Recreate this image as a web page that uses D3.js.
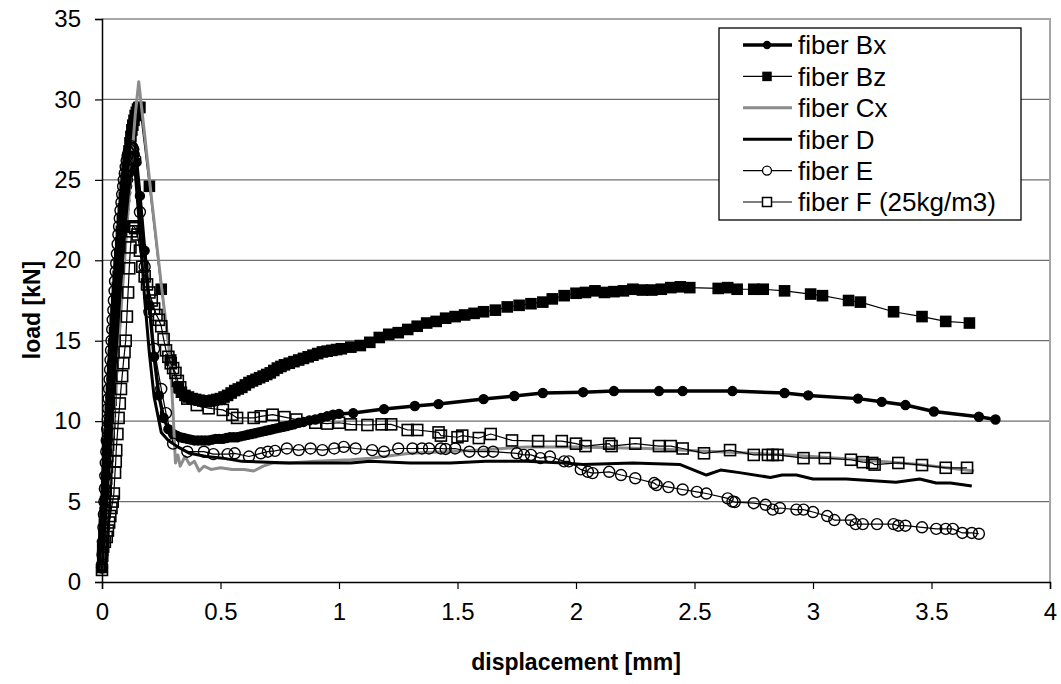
<!DOCTYPE html>
<html>
<head>
<meta charset="utf-8">
<script src="https://cdn.jsdelivr.net/npm/d3@7"></script>
<style>
  body { margin: 0; background: #fff; }
  svg { font-family: "Liberation Sans", Arial, sans-serif; }
</style>
</head>
<body>
<svg id="chart" width="1061" height="684"></svg>
<script>
// data: [displacement mm, load kN]
var fiberBx = [[0,0.9],[0.002,1.3],[0.004,1.8],[0.006,2.4],[0.008,3.0],[0.01,3.6],[0.012,4.2],[0.014,4.9],[0.016,5.6],[0.018,6.3],[0.02,7.0],[0.022,7.6],[0.024,8.2],[0.026,8.8],[0.028,9.3],[0.03,9.9],[0.032,10.4],[0.034,11.0],[0.036,11.5],[0.038,12.0],[0.04,12.6],[0.043,13.3],[0.045,13.8],[0.048,14.4],[0.05,15.0],[0.053,15.7],[0.055,16.2],[0.058,16.8],[0.06,17.4],[0.063,18.0],[0.065,18.5],[0.068,19.1],[0.07,19.6],[0.073,20.2],[0.076,20.7],[0.079,21.2],[0.082,21.7],[0.086,22.2],[0.09,22.7],[0.094,23.2],[0.098,23.7],[0.102,24.2],[0.106,24.6],[0.11,25.0],[0.114,25.4],[0.118,25.7],[0.122,26.0],[0.126,26.2],[0.13,26.4],[0.134,26.5],[0.138,26.6],[0.146,26.1],[0.16,24.0],[0.18,20.6],[0.2,17.2],[0.22,14.0],[0.24,11.6],[0.26,10.2],[0.28,9.5],[0.3,9.2],[0.315,9.1],[0.33,9.0],[0.345,8.95],[0.36,8.9],[0.375,8.85],[0.39,8.8],[0.405,8.8],[0.42,8.8],[0.435,8.8],[0.45,8.8],[0.465,8.85],[0.48,8.9],[0.495,8.9],[0.51,8.9],[0.525,8.95],[0.54,9.0],[0.555,9.0],[0.57,9.0],[0.585,9.05],[0.6,9.1],[0.615,9.15],[0.63,9.2],[0.645,9.25],[0.66,9.3],[0.675,9.35],[0.69,9.4],[0.705,9.45],[0.72,9.5],[0.735,9.55],[0.75,9.6],[0.765,9.65],[0.78,9.7],[0.795,9.75],[0.81,9.8],[0.83,9.9],[0.85,9.95],[0.875,10.05],[0.9,10.1],[0.925,10.2],[0.95,10.3],[0.975,10.4],[1.0,10.45],[1.06,10.5],[1.19,10.75],[1.32,10.94],[1.42,11.06],[1.61,11.37],[1.74,11.56],[1.86,11.75],[2.03,11.8],[2.16,11.87],[2.35,11.87],[2.45,11.87],[2.66,11.87],[2.88,11.75],[2.98,11.6],[3.19,11.4],[3.29,11.2],[3.39,11.0],[3.51,10.6],[3.7,10.27],[3.77,10.1]];

var fiberBz = [[0,0.9],[0.003,1.6],[0.005,2.2],[0.008,2.9],[0.01,3.6],[0.013,4.3],[0.015,5.0],[0.018,5.7],[0.02,6.4],[0.023,7.1],[0.025,7.8],[0.028,8.5],[0.03,9.2],[0.033,9.9],[0.035,10.6],[0.038,11.3],[0.04,12.0],[0.043,12.7],[0.045,13.4],[0.048,14.1],[0.05,14.8],[0.053,15.5],[0.056,16.2],[0.059,16.9],[0.062,17.6],[0.065,18.3],[0.068,19.0],[0.072,19.7],[0.075,20.4],[0.079,21.1],[0.082,21.8],[0.086,22.5],[0.09,23.2],[0.094,23.9],[0.098,24.5],[0.102,25.1],[0.106,25.7],[0.11,26.3],[0.114,26.8],[0.118,27.3],[0.122,27.7],[0.126,28.1],[0.13,28.4],[0.135,28.7],[0.14,29.0],[0.145,29.2],[0.15,29.4],[0.155,29.5],[0.16,29.5],[0.2,24.6],[0.25,18.2],[0.29,13.8],[0.32,12.1],[0.335,11.8],[0.35,11.6],[0.365,11.5],[0.38,11.4],[0.395,11.35],[0.41,11.3],[0.425,11.25],[0.44,11.2],[0.455,11.25],[0.47,11.3],[0.485,11.35],[0.5,11.4],[0.515,11.5],[0.53,11.6],[0.545,11.75],[0.56,11.9],[0.575,12.0],[0.59,12.1],[0.605,12.25],[0.62,12.4],[0.635,12.5],[0.65,12.6],[0.665,12.7],[0.68,12.8],[0.695,12.9],[0.71,13.0],[0.725,13.15],[0.74,13.3],[0.755,13.4],[0.77,13.5],[0.79,13.6],[0.81,13.7],[0.83,13.8],[0.85,13.9],[0.87,14.0],[0.89,14.1],[0.91,14.2],[0.93,14.3],[0.95,14.35],[0.97,14.4],[0.99,14.45],[1.01,14.5],[1.05,14.6],[1.09,14.7],[1.13,14.9],[1.17,15.2],[1.21,15.4],[1.25,15.5],[1.29,15.7],[1.33,15.9],[1.37,16.1],[1.41,16.2],[1.45,16.4],[1.49,16.5],[1.53,16.6],[1.57,16.7],[1.61,16.8],[1.66,16.9],[1.71,17.1],[1.76,17.2],[1.81,17.3],[1.86,17.4],[1.9,17.6],[1.95,17.8],[2.0,17.95],[2.04,18.0],[2.08,18.1],[2.12,18.0],[2.16,18.05],[2.2,18.1],[2.24,18.2],[2.28,18.15],[2.32,18.15],[2.36,18.2],[2.4,18.3],[2.44,18.35],[2.48,18.3],[2.6,18.25],[2.64,18.3],[2.68,18.2],[2.75,18.2],[2.79,18.2],[2.88,18.1],[2.99,17.9],[3.04,17.8],[3.15,17.5],[3.2,17.4],[3.34,16.8],[3.46,16.5],[3.56,16.2],[3.66,16.1]];

var fiberCx = [[0,0.8],[0.02,4.5],[0.04,8.5],[0.06,12.5],[0.08,16.8],[0.1,21.0],[0.12,25.2],[0.14,29.0],[0.155,31.1],[0.18,27.8],[0.21,23.7],[0.25,18.5],[0.287,14.0],[0.3,10.5],[0.31,7.4],[0.32,7.9],[0.33,7.2],[0.35,7.8],[0.37,7.3],[0.39,7.5],[0.41,6.9],[0.43,7.2],[0.46,7.0],[0.5,7.1],[0.55,7.0],[0.6,7.0],[0.64,6.9],[0.68,7.2],[0.72,7.4],[0.79,7.4],[0.9,7.5],[1.05,7.6],[1.13,7.7],[1.3,8.0],[1.45,8.1],[1.6,8.2],[1.79,8.4],[2.0,8.4],[2.3,8.3],[2.6,8.1],[2.9,7.9],[3.2,7.6],[3.45,7.3],[3.68,6.9]];

var fiberD = [[0,0.8],[0.01,3.0],[0.02,5.3],[0.03,7.6],[0.04,9.9],[0.05,12.2],[0.06,14.4],[0.07,16.6],[0.08,18.7],[0.09,20.7],[0.1,22.5],[0.11,24.0],[0.12,25.2],[0.13,26.0],[0.14,25.5],[0.16,21.8],[0.18,17.6],[0.2,14.2],[0.22,11.5],[0.25,9.3],[0.28,8.8],[0.32,8.4],[0.37,8.0],[0.44,7.8],[0.51,7.7],[0.59,7.5],[0.79,7.4],[1.05,7.4],[1.13,7.5],[1.3,7.4],[1.47,7.4],[1.62,7.5],[1.79,7.5],[1.95,7.4],[2.03,7.3],[2.24,7.4],[2.44,7.3],[2.55,6.65],[2.61,6.96],[2.69,6.8],[2.82,6.5],[2.87,6.65],[2.93,6.65],[3.0,6.4],[3.14,6.4],[3.35,6.2],[3.45,6.4],[3.52,6.15],[3.58,6.15],[3.67,5.97]];

var fiberE = [[0,0.9],[0.002,1.7],[0.004,2.5],[0.006,3.4],[0.008,4.2],[0.01,5.0],[0.012,5.8],[0.014,6.6],[0.016,7.4],[0.018,8.1],[0.02,8.8],[0.022,9.5],[0.024,10.1],[0.026,10.8],[0.028,11.4],[0.03,12.0],[0.032,12.6],[0.034,13.2],[0.036,13.8],[0.038,14.4],[0.04,15.0],[0.043,15.7],[0.045,16.3],[0.048,16.9],[0.05,17.5],[0.053,18.1],[0.055,18.7],[0.058,19.3],[0.06,19.8],[0.063,20.4],[0.066,21.0],[0.069,21.6],[0.072,22.1],[0.075,22.6],[0.078,23.1],[0.082,23.6],[0.085,24.1],[0.089,24.6],[0.092,25.0],[0.096,25.4],[0.1,25.8],[0.104,26.2],[0.108,26.5],[0.112,26.7],[0.116,26.9],[0.12,27.0],[0.124,27.1],[0.128,27.0],[0.132,26.9],[0.14,26.3],[0.16,23.0],[0.18,19.6],[0.2,16.8],[0.22,14.5],[0.25,12.0],[0.27,10.5],[0.3,8.6],[0.36,8.1],[0.43,8.1],[0.47,7.95],[0.53,7.95],[0.56,8.0],[0.62,7.8],[0.67,8.0],[0.7,8.1],[0.73,8.15],[0.78,8.3],[0.83,8.2],[0.88,8.3],[0.93,8.2],[0.98,8.3],[1.02,8.4],[1.07,8.3],[1.14,8.2],[1.19,8.1],[1.25,8.3],[1.31,8.3],[1.35,8.3],[1.38,8.3],[1.43,8.3],[1.45,8.27],[1.49,8.3],[1.55,8.1],[1.61,8.1],[1.65,8.1],[1.75,8.0],[1.78,7.9],[1.81,7.9],[1.85,7.7],[1.89,7.8],[1.95,7.5],[1.97,7.5],[2.02,7.0],[2.05,6.85],[2.07,6.77],[2.14,6.85],[2.19,6.65],[2.25,6.45],[2.33,6.15],[2.34,6.03],[2.39,5.9],[2.45,5.75],[2.51,5.6],[2.55,5.5],[2.64,5.2],[2.66,5.0],[2.67,4.97],[2.75,4.9],[2.8,4.8],[2.83,4.5],[2.86,4.6],[2.93,4.5],[2.96,4.5],[3.0,4.35],[3.06,4.1],[3.09,3.85],[3.16,3.85],[3.18,3.6],[3.21,3.6],[3.27,3.6],[3.34,3.6],[3.36,3.5],[3.39,3.5],[3.46,3.4],[3.52,3.3],[3.56,3.3],[3.59,3.3],[3.63,3.05],[3.67,3.05],[3.7,3.0]];

var fiberF = [[0,0.75],[0.005,2.2],[0.012,2.5],[0.02,2.8],[0.025,3.2],[0.03,3.7],[0.035,4.1],[0.04,4.6],[0.045,5.0],[0.05,5.5],[0.055,6.8],[0.058,7.5],[0.06,8.2],[0.065,9.2],[0.07,10.2],[0.075,11.1],[0.08,12.0],[0.085,12.8],[0.09,13.6],[0.095,14.3],[0.1,15.0],[0.105,16.5],[0.11,18.0],[0.115,19.5],[0.12,20.8],[0.125,21.8],[0.13,22.1],[0.135,22.1],[0.14,22.0],[0.15,21.6],[0.16,20.6],[0.17,19.6],[0.18,19.0],[0.19,18.5],[0.2,18.0],[0.21,17.5],[0.22,17.0],[0.23,16.6],[0.24,16.3],[0.25,15.9],[0.26,15.1],[0.27,14.4],[0.28,14.0],[0.29,13.6],[0.3,13.3],[0.31,13.0],[0.32,12.5],[0.33,12.1],[0.36,11.4],[0.4,11.0],[0.45,10.8],[0.51,10.7],[0.55,10.4],[0.57,10.2],[0.64,10.2],[0.67,10.3],[0.72,10.4],[0.77,10.25],[0.82,10.1],[0.9,9.9],[0.95,9.85],[1.0,9.9],[1.05,9.8],[1.12,9.76],[1.18,9.8],[1.22,9.8],[1.29,9.45],[1.33,9.45],[1.42,9.3],[1.43,9.1],[1.5,9.0],[1.52,9.1],[1.59,8.95],[1.64,9.2],[1.73,8.8],[1.84,8.76],[1.94,8.76],[2.0,8.6],[2.04,8.45],[2.14,8.6],[2.15,8.45],[2.25,8.6],[2.35,8.45],[2.4,8.45],[2.45,8.3],[2.54,8.0],[2.65,8.2],[2.75,7.9],[2.81,7.9],[2.83,7.9],[2.85,7.9],[2.96,7.7],[3.05,7.7],[3.16,7.6],[3.21,7.45],[3.25,7.4],[3.26,7.3],[3.36,7.4],[3.46,7.27],[3.56,7.1],[3.65,7.1]];

var xTicks = [0, 0.5, 1, 1.5, 2, 2.5, 3, 3.5, 4];
var yTicks = [0, 5, 10, 15, 20, 25, 30, 35];
var seriesNames = ["fiber Bx", "fiber Bz", "fiber Cx", "fiber D", "fiber E", "fiber F (25kg/m3)"];

// series styles
var styles = [
  {data: fiberBx, stroke: "#000", width: 3.5, marker: "circle", fill: "#000", size: 4.5},
  {data: fiberBz, stroke: "#000", width: 1.2, marker: "square", fill: "#000", size: 10},
  {data: fiberCx, stroke: "#8c8c8c", width: 3, marker: null},
  {data: fiberD, stroke: "#000", width: 3, marker: null},
  {data: fiberE, stroke: "#000", width: 1.2, marker: "circle", fill: "none", size: 5.5},
  {data: fiberF, stroke: "#000", width: 1.2, marker: "square", fill: "none", size: 11}
];

var plot = {left: 102, right: 1050, top: 19, bottom: 582};
var svg = d3.select("#chart");

var x = d3.scaleLinear().domain([0, 4]).range([plot.left, plot.right]);
var y = d3.scaleLinear().domain([0, 35]).range([plot.bottom, plot.top]);

// gridlines
svg.append("g")
  .selectAll("line")
  .data(yTicks.filter(function(t) { return t > 0 && t < 35; }))
  .enter().append("line")
    .attr("x1", plot.left).attr("x2", plot.right)
    .attr("y1", function(d) { return y(d); })
    .attr("y2", function(d) { return y(d); })
    .attr("stroke", "#6e6e6e")
    .attr("stroke-width", 1.2);

// plot area border (top + right)
svg.append("path")
  .attr("d", "M" + plot.left + "," + plot.top + "H" + plot.right + "V" + plot.bottom)
  .attr("fill", "none")
  .attr("stroke", "#a6a6a6")
  .attr("stroke-width", 2);

// axes
var xAxis = svg.append("g")
  .attr("transform", "translate(0," + plot.bottom + ")")
  .call(d3.axisBottom(x).tickValues(xTicks).tickSize(7).tickPadding(14)
    .tickFormat(function(d) { return String(d); }));
var yAxis = svg.append("g")
  .attr("transform", "translate(" + plot.left + ",0)")
  .call(d3.axisLeft(y).tickValues(yTicks).tickSize(7).tickPadding(14));

[xAxis, yAxis].forEach(function(a) {
  a.select(".domain").attr("stroke", "#000").attr("stroke-width", 1.5);
  a.selectAll(".tick line").attr("stroke", "#000").attr("stroke-width", 1.2);
  a.selectAll(".tick text")
    .attr("fill", "#000")
    .style("font-family", "'Liberation Sans', Arial, sans-serif")
    .style("font-size", "24px");
});

// series
var line = d3.line()
  .x(function(d) { return x(d[0]); })
  .y(function(d) { return y(d[1]); });

function drawMarkers(g, s, pts) {
  if (s.marker == "circle") {
    g.selectAll("circle").data(pts).enter().append("circle")
      .attr("cx", function(d) { return x(d[0]); })
      .attr("cy", function(d) { return y(d[1]); })
      .attr("r", s.size)
      .attr("fill", s.fill)
      .attr("stroke", "#000")
      .attr("stroke-width", 1.4);
  } else if (s.marker == "square") {
    g.selectAll("rect").data(pts).enter().append("rect")
      .attr("x", function(d) { return x(d[0]) - s.size / 2; })
      .attr("y", function(d) { return y(d[1]) - s.size / 2; })
      .attr("width", s.size)
      .attr("height", s.size)
      .attr("fill", s.fill)
      .attr("stroke", "#000")
      .attr("stroke-width", 1.6);
  }
}

styles.forEach(function(s) {
  var g = svg.append("g");
  g.append("path")
    .datum(s.data)
    .attr("fill", "none")
    .attr("stroke", s.stroke)
    .attr("stroke-width", s.width)
    .attr("stroke-linejoin", "round")
    .attr("d", line);
  drawMarkers(g, s, s.data);
});

// axis titles
svg.append("text")
  .attr("x", (plot.left + plot.right) / 2)
  .attr("y", 670)
  .attr("text-anchor", "middle")
  .style("font-size", "23px")
  .style("font-weight", "bold")
  .text("displacement [mm]");

svg.append("text")
  .attr("transform", "translate(32,310) rotate(-90)")
  .attr("text-anchor", "middle")
  .attr("dy", "0.35em")
  .style("font-size", "23px")
  .style("font-weight", "bold")
  .text("load [kN]");

// legend
var legend = svg.append("g");
legend.append("rect")
  .attr("x", 719).attr("y", 28)
  .attr("width", 302).attr("height", 192)
  .attr("fill", "#fff")
  .attr("stroke", "#000")
  .attr("stroke-width", 1.3);

seriesNames.forEach(function(name, i) {
  var s = styles[i];
  var cy = 45 + i * 31.4;
  var row = legend.append("g");
  row.append("line")
    .attr("x1", 743).attr("x2", 792)
    .attr("y1", cy).attr("y2", cy)
    .attr("stroke", s.stroke)
    .attr("stroke-width", s.width);
  if (s.marker == "circle") {
    row.append("circle").attr("cx", 767).attr("cy", cy).attr("r", s.size - 1)
      .attr("fill", s.fill == "none" ? "#fff" : s.fill).attr("stroke", "#000").attr("stroke-width", 1.3);
  } else if (s.marker == "square") {
    row.append("rect").attr("x", 767 - (s.size - 2) / 2).attr("y", cy - (s.size - 2) / 2)
      .attr("width", s.size - 2).attr("height", s.size - 2)
      .attr("fill", s.fill == "none" ? "#fff" : s.fill).attr("stroke", "#000").attr("stroke-width", 1.5);
  }
  row.append("text")
    .attr("x", 798).attr("y", cy)
    .attr("dy", "0.36em")
    .style("font-size", "26px")
    .text(name);
});
</script>
</body>
</html>
